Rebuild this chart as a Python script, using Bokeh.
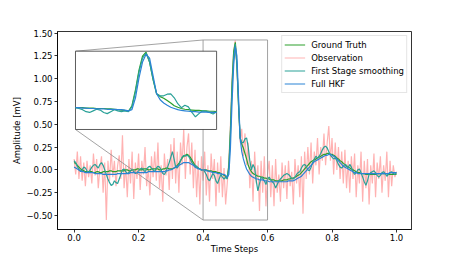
import numpy as np
from bokeh.plotting import figure
from bokeh.models import Range1d, FixedTicker, CustomJSTickFormatter, Legend, LegendItem
from bokeh.embed import file_html
from bokeh.resources import INLINE

# ---------------- data ----------------
time_steps = np.linspace(0.0, 1.0, 201)

ground_truth = [
    0.08, 0.07, 0.05, 0.03, 0.01, 0.00, -0.01, -0.02, -0.02, -0.02, -0.02,
    -0.02, -0.03, -0.03, -0.02, -0.02, -0.03, -0.03, -0.02, -0.02, -0.02,
    -0.02, -0.01, -0.01, -0.02, -0.02, -0.02, -0.01, -0.01, -0.01, -0.01,
    -0.01, 0.00, 0.00, -0.01, -0.01, 0.00, 0.00, 0.00, 0.01, 0.01,
    0.00, 0.00, 0.01, 0.01, 0.01, 0.00, 0.00, 0.01, 0.01, 0.01,
    0.01, 0.01, 0.00, 0.00, 0.01, 0.01, 0.02, 0.02, 0.01, 0.01,
    0.01, 0.02, 0.03, 0.05, 0.07, 0.10, 0.13, 0.15, 0.16, 0.17,
    0.16, 0.14, 0.11, 0.08, 0.05, 0.03, 0.02, 0.01, 0.00, 0.00,
    0.00, 0.00, -0.01, -0.01, -0.01, -0.02, -0.02, -0.02, -0.03, -0.03,
    -0.04, -0.05, -0.06, -0.07, -0.09, 0.05, 0.45, 0.95, 1.30, 1.40,
    1.15, 0.70, 0.35, 0.28, 0.24, 0.18, 0.12, 0.05, 0.01, -0.02,
    -0.04, -0.05, -0.06, -0.07, -0.07, -0.08, -0.08, -0.09, -0.09, -0.10,
    -0.10, -0.11, -0.11, -0.11, -0.12, -0.12, -0.12, -0.12, -0.12, -0.11,
    -0.11, -0.11, -0.10, -0.10, -0.09, -0.09, -0.08, -0.07, -0.06, -0.05,
    -0.03, -0.01, 0.01, 0.03, 0.05, 0.07, 0.09, 0.10, 0.11, 0.12,
    0.13, 0.14, 0.15, 0.16, 0.17, 0.17, 0.18, 0.18, 0.17, 0.17,
    0.16, 0.15, 0.13, 0.12, 0.10, 0.09, 0.07, 0.06, 0.04, 0.03,
    0.02, 0.01, 0.00, -0.01, -0.02, -0.03, -0.03, -0.04, -0.04, -0.04,
    -0.05, -0.05, -0.05, -0.05, -0.05, -0.05, -0.05, -0.04, -0.04, -0.04,
    -0.04, -0.04, -0.04, -0.04, -0.05, -0.05, -0.05, -0.05, -0.05, -0.05,
]

observation = [
    0.12, -0.05, 0.20, -0.10, 0.15, -0.12, 0.08, -0.18, 0.10, -0.08, 0.05,
    -0.15, 0.18, -0.06, 0.12, -0.20, 0.02, 0.15, -0.25, 0.08, -0.55,
    0.10, -0.12, 0.22, -0.08, 0.10, -0.18, 0.05, 0.16, -0.10, 0.38,
    -0.20, 0.05, -0.30, 0.12, -0.15, 0.20, -0.32, 0.08, -0.10, 0.18,
    -0.22, 0.10, -0.05, 0.25, -0.18, 0.02, -0.28, 0.15, -0.08, 0.20,
    -0.12, 0.30, -0.20, 0.05, -0.35, 0.18, -0.06, 0.12, -0.22, 0.28,
    -0.10, 0.35, -0.15, 0.20, -0.25, 0.30, 0.05, 0.45, -0.10, 0.25,
    0.40, -0.05, 0.30, -0.20, 0.22, -0.30, 0.10, -0.38, 0.15, -0.12,
    0.20, -0.28, 0.05, -0.35, 0.18, -0.10, 0.12, -0.40, 0.08, -0.25,
    0.15, -0.30, 0.02, -0.38, -0.15, 0.10, 0.50, 1.00, 1.30, 1.42,
    1.10, 0.75, 0.30, 0.45, 0.15, 0.40, 0.05, 0.30, -0.20, 0.10,
    -0.35, 0.20, -0.15, 0.05, -0.45, 0.10, -0.25, 0.15, -0.40, -0.05,
    0.10, -0.30, 0.05, -0.40, 0.12, -0.25, -0.05, -0.35, 0.08, -0.20,
    0.05, -0.32, 0.10, -0.18, -0.02, -0.38, 0.12, -0.15, 0.05, -0.30,
    0.15, -0.48, 0.20, -0.10, 0.25, -0.05, 0.30, -0.15, 0.20, 0.05,
    0.35, -0.05, 0.25, 0.10, 0.40, 0.05, 0.30, 0.48, 0.10, 0.35,
    -0.05, 0.30, 0.00, 0.25, -0.10, 0.20, -0.15, 0.22, -0.20, 0.10,
    -0.25, 0.15, -0.10, 0.18, -0.30, 0.05, -0.15, 0.20, -0.35, 0.10,
    -0.20, 0.12, -0.38, 0.05, -0.15, 0.18, -0.30, 0.08, -0.10, 0.15,
    -0.25, 0.05, -0.12, 0.20, -0.30, 0.10, -0.18, 0.05, -0.08, -0.02,
]

first_stage = [
    0.10, 0.08, 0.04, 0.00, -0.02, 0.00, 0.03, 0.02, -0.01, -0.03, 0.00,
    0.03, 0.05, 0.06, 0.04, 0.02, 0.06, 0.08, 0.05, 0.00, -0.05,
    -0.10, -0.14, -0.17, -0.16, -0.12, -0.14, -0.15, -0.10, -0.05, 0.00,
    0.01, -0.02, -0.04, -0.03, -0.01, 0.01, -0.02, -0.04, -0.03, -0.01,
    0.01, 0.02, 0.00, -0.02, 0.01, 0.03, 0.04, 0.02, 0.00, -0.02,
    0.02, 0.04, 0.03, 0.00, -0.04, -0.05, -0.02, 0.03, 0.08, 0.14,
    0.20, 0.12, 0.03, 0.02, 0.05, 0.10, 0.14, 0.16, 0.15, 0.16,
    0.15, 0.12, 0.08, 0.06, 0.05, 0.04, 0.02, 0.01, 0.00, 0.00,
    -0.02, -0.05, -0.10, -0.12, -0.08, -0.04, -0.06, -0.12, -0.15, -0.10,
    -0.05, -0.08, -0.10, -0.08, -0.10, 0.02, 0.40, 0.90, 1.25, 1.38,
    1.15, 0.72, 0.35, 0.30, 0.30, 0.34, 0.35, 0.25, 0.10, 0.00,
    0.06, 0.02, -0.12, -0.23, -0.15, -0.08, -0.09, -0.12, -0.16, -0.10,
    -0.08, -0.11, -0.13, -0.15, -0.20, -0.16, -0.12, -0.10, -0.08, -0.06,
    -0.05, -0.04, -0.05, -0.07, -0.10, -0.10, -0.08, -0.05, -0.03, -0.02,
    0.02, 0.05, 0.06, 0.04, 0.00, -0.01, 0.03, 0.08, 0.12, 0.15,
    0.13, 0.15, 0.18, 0.22, 0.25, 0.26, 0.24, 0.20, 0.16, 0.14,
    0.12, 0.13, 0.10, 0.06, 0.03, 0.02, 0.04, 0.06, 0.05, 0.02,
    0.06, 0.03, -0.02, -0.05, -0.03, 0.00, 0.01, -0.03, -0.08, -0.13,
    -0.17, -0.12, -0.05, -0.03, -0.02, -0.01, -0.03, -0.06, -0.08, -0.06,
    -0.03, -0.02, -0.04, -0.07, -0.05, -0.03, -0.02, -0.04, -0.05, -0.03,
]

full_hkf = [
    0.03, 0.02, 0.01, 0.00, -0.01, -0.02, -0.02, -0.03, -0.03, -0.03, -0.03,
    -0.03, -0.03, -0.04, -0.04, -0.04, -0.04, -0.04, -0.05, -0.05, -0.05,
    -0.05, -0.05, -0.05, -0.05, -0.05, -0.05, -0.04, -0.04, -0.04, -0.04,
    -0.04, -0.04, -0.04, -0.04, -0.03, -0.03, -0.03, -0.03, -0.03, -0.03,
    -0.03, -0.03, -0.03, -0.03, -0.03, -0.02, -0.02, -0.02, -0.02, -0.02,
    -0.02, -0.02, -0.02, -0.02, -0.02, -0.02, -0.01, -0.01, 0.00, 0.00,
    0.01, 0.02, 0.03, 0.04, 0.05, 0.06, 0.07, 0.08, 0.08, 0.08,
    0.08, 0.07, 0.06, 0.05, 0.03, 0.02, 0.01, 0.01, 0.00, 0.00,
    0.00, -0.01, -0.01, -0.02, -0.02, -0.03, -0.03, -0.03, -0.04, -0.04,
    -0.04, -0.05, -0.05, -0.06, -0.08, -0.05, 0.25, 0.75, 1.15, 1.35,
    1.25, 0.80, 0.35, 0.20, 0.12, 0.06, 0.01, -0.02, -0.05, -0.07,
    -0.08, -0.09, -0.10, -0.10, -0.11, -0.11, -0.11, -0.12, -0.12, -0.12,
    -0.13, -0.13, -0.13, -0.13, -0.13, -0.13, -0.13, -0.13, -0.13, -0.13,
    -0.13, -0.13, -0.12, -0.12, -0.12, -0.12, -0.11, -0.10, -0.09, -0.08,
    -0.07, -0.05, -0.03, -0.01, 0.01, 0.03, 0.05, 0.07, 0.09, 0.10,
    0.11, 0.12, 0.13, 0.14, 0.15, 0.16, 0.16, 0.17, 0.17, 0.16,
    0.15, 0.14, 0.12, 0.10, 0.08, 0.06, 0.04, 0.03, 0.02, 0.01,
    0.00, -0.01, -0.02, -0.03, -0.03, -0.04, -0.04, -0.04, -0.04, -0.04,
    -0.04, -0.04, -0.04, -0.04, -0.04, -0.04, -0.04, -0.04, -0.04, -0.04,
    -0.04, -0.04, -0.04, -0.04, -0.04, -0.03, -0.03, -0.03, -0.03, -0.03,
]

x_ticks = [0.0, 0.2, 0.4, 0.6, 0.8, 1.0]
y_ticks = [-0.5, -0.25, 0.0, 0.25, 0.5, 0.75, 1.0, 1.25, 1.5]

# zoomed window shown in the inset
zoom_x = (0.4, 0.6)
zoom_y = (-0.55, 1.425)

# ---------------- layout constants ----------------
X0, X1 = -0.0515, 1.0465
Y0, Y1 = -0.654, 1.518
# inset box placement expressed in main-axes data units
BX0, BX1 = 0.0043, 0.442
BY0, BY1 = 0.443, 1.302

C_GT = "#2ca02c"
C_OBS = "#ff0000"
C_FS = "#2aa198"
C_HKF = "#2b83d6"
FONT = "DejaVu Sans"
FS = "8.5px"

p = figure(width=457, height=257, output_backend="svg", toolbar_location=None,
           x_range=Range1d(X0, X1), y_range=Range1d(Y0, Y1),
           min_border_left=57, min_border_right=46, min_border_top=31,
           min_border_bottom=28)
p.grid.visible = False
p.outline_line_color = "#000000"
p.outline_line_width = 0.8
p.background_fill_color = "white"
p.border_fill_color = "white"

for ax in (p.xaxis[0], p.yaxis[0]):
    ax.axis_line_color = "#000000"
    ax.axis_line_width = 0.8
    ax.major_tick_out = 3
    ax.major_tick_in = 0
    ax.major_tick_line_width = 0.8
    ax.minor_tick_out = 0
    ax.minor_tick_in = 0
    ax.major_label_text_font = FONT
    ax.major_label_text_font_size = FS
    ax.major_label_text_color = "#000000"
    ax.axis_label_text_font = FONT
    ax.axis_label_text_font_size = FS
    ax.axis_label_text_font_style = "normal"
    ax.axis_label_text_color = "#000000"

p.xaxis.ticker = FixedTicker(ticks=x_ticks)
p.yaxis.ticker = FixedTicker(ticks=y_ticks)
p.xaxis.formatter = CustomJSTickFormatter(code="return tick.toFixed(1).replace('-', '\u2212');")
p.yaxis.formatter = CustomJSTickFormatter(code="return tick.toFixed(2).replace('-', '\u2212');")
p.xaxis.axis_label = "Time Steps"
p.yaxis.axis_label = "Amplitude [mV]"
p.xaxis.major_label_standoff = 1
p.yaxis.major_label_standoff = 2
p.xaxis.axis_label_standoff = 0
p.yaxis.axis_label_standoff = 1

t = list(time_steps)
r_obs = p.line(t, observation, line_color=C_OBS, line_alpha=0.3, line_width=1.2)
r_gt = p.line(t, ground_truth, line_color=C_GT, line_width=1.2)
r_fs = p.line(t, first_stage, line_color=C_FS, line_width=1.2)
r_hkf = p.line(t, full_hkf, line_color=C_HKF, line_width=1.2)

# zoom indicator rectangle and connectors
p.quad(left=[zoom_x[0]], right=[zoom_x[1]], bottom=[zoom_y[0]], top=[zoom_y[1]],
       fill_alpha=0, line_color="#8c8c8c", line_width=0.8)
p.segment(x0=[zoom_x[0], zoom_x[0]], y0=[zoom_y[1], zoom_y[0]],
          x1=[BX0, BX0], y1=[BY1, BY0], line_color="#8c8c8c", line_width=0.8)

# inset axes as extra ranges mapped onto the inset box
sx = (zoom_x[1] - zoom_x[0]) / (BX1 - BX0)
sy = (zoom_y[1] - zoom_y[0]) / (BY1 - BY0)
p.extra_x_ranges = {"inset": Range1d(zoom_x[0] - (BX0 - X0) * sx, zoom_x[1] + (X1 - BX1) * sx)}
p.extra_y_ranges = {"inset": Range1d(zoom_y[0] - (BY0 - Y0) * sy, zoom_y[1] + (Y1 - BY1) * sy)}

p.quad(left=[zoom_x[0]], right=[zoom_x[1]], bottom=[zoom_y[0]], top=[zoom_y[1]],
       fill_color="white", line_color="#333333", line_width=0.8,
       x_range_name="inset", y_range_name="inset")

idx = [i for i, v in enumerate(time_steps) if zoom_x[0] - 1e-9 <= v <= zoom_x[1] + 1e-9]
ti = [t[i] for i in idx]
p.line(ti, [ground_truth[i] for i in idx], line_color=C_GT, line_width=1.2,
       x_range_name="inset", y_range_name="inset")
p.line(ti, [first_stage[i] for i in idx], line_color=C_FS, line_width=1.2,
       x_range_name="inset", y_range_name="inset")
p.line(ti, [full_hkf[i] for i in idx], line_color=C_HKF, line_width=1.2,
       x_range_name="inset", y_range_name="inset")

legend = Legend(items=[
    LegendItem(label="Ground Truth", renderers=[r_gt]),
    LegendItem(label="Observation", renderers=[r_obs]),
    LegendItem(label="First Stage smoothing", renderers=[r_fs]),
    LegendItem(label="Full HKF", renderers=[r_hkf]),
], location="top_right")
legend.label_text_font = FONT
legend.label_text_font_size = FS
legend.label_text_color = "#000000"
legend.glyph_width = 21
legend.glyph_height = 13
legend.label_height = 13
legend.spacing = 0
legend.padding = 2
legend.margin = 4
legend.label_standoff = 6
legend.border_line_color = "#cccccc"
legend.border_line_width = 0.8
legend.background_fill_alpha = 0.8
p.add_layout(legend)

open("out.html", "w").write(file_html(p, INLINE))
